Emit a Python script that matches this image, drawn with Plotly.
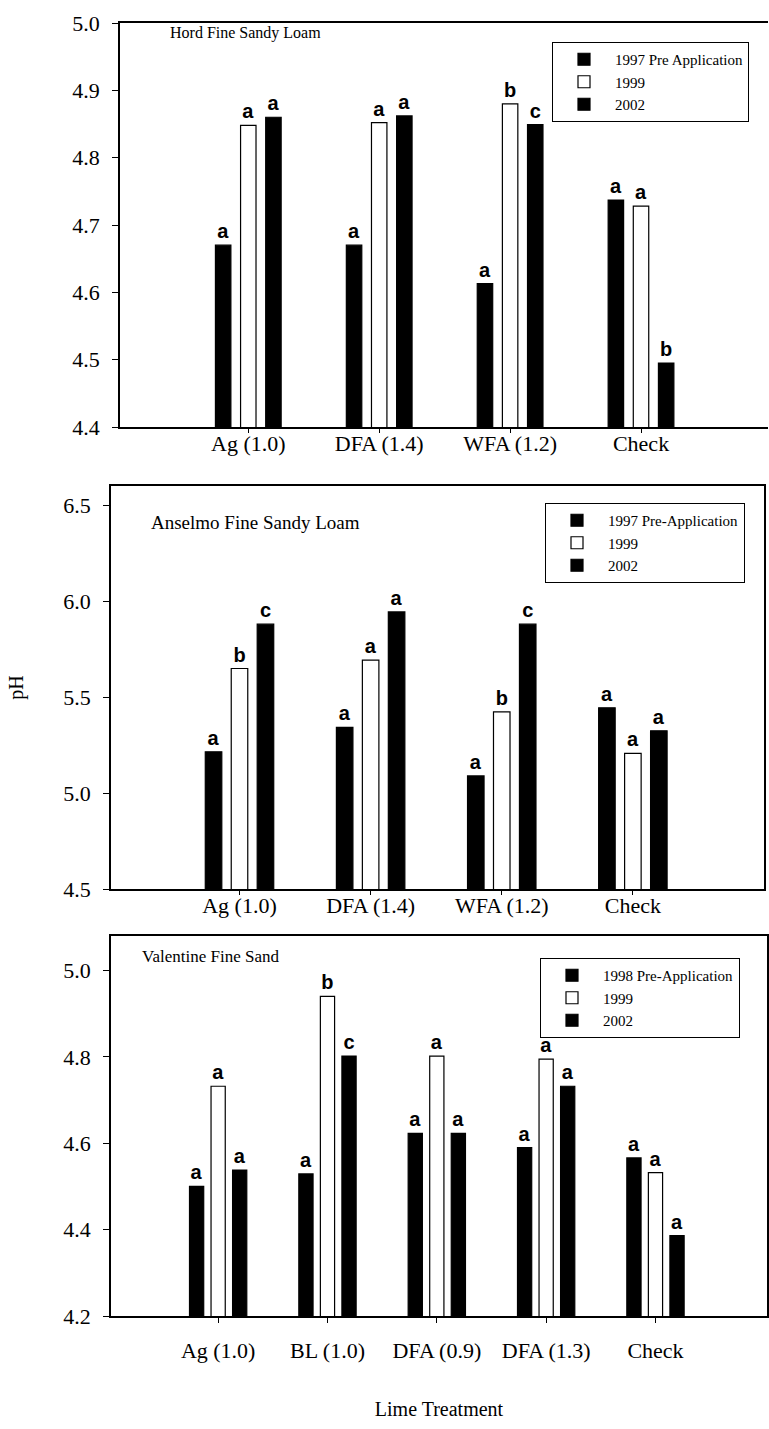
import plotly.graph_objects as go

W, H = 769, 1429

# ---------------- data ----------------
hord_cats = ["Ag (1.0)", "DFA (1.4)", "WFA (1.2)", "Check"]
hord_1997 = [4.670, 4.670, 4.613, 4.737]
hord_1999 = [4.848, 4.852, 4.880, 4.728]
hord_2002 = [4.860, 4.862, 4.849, 4.495]
hord_lab_1997 = ["a", "a", "a", "a"]
hord_lab_1999 = ["a", "a", "b", "a"]
hord_lab_2002 = ["a", "a", "c", "b"]

ans_cats = ["Ag (1.0)", "DFA (1.4)", "WFA (1.2)", "Check"]
ans_1997 = [5.215, 5.342, 5.089, 5.444]
ans_1999 = [5.649, 5.693, 5.423, 5.207]
ans_2002 = [5.880, 5.944, 5.880, 5.324]
ans_lab_1997 = ["a", "a", "a", "a"]
ans_lab_1999 = ["b", "a", "b", "a"]
ans_lab_2002 = ["c", "a", "c", "a"]

val_cats = ["Ag (1.0)", "BL (1.0)", "DFA (0.9)", "DFA (1.3)", "Check"]
val_1998 = [4.500, 4.529, 4.623, 4.590, 4.566]
val_1999 = [4.732, 4.940, 4.802, 4.795, 4.532]
val_2002 = [4.538, 4.802, 4.623, 4.732, 4.386]
val_lab_1998 = ["a", "a", "a", "a", "a"]
val_lab_1999 = ["a", "b", "a", "a", "a"]
val_lab_2002 = ["a", "c", "a", "a", "a"]

SERIF = "Liberation Serif"
SANS = "Liberation Sans"


def dom_x(l, r):
    return [l / W, r / W]


def dom_y(top, bottom):
    return [1 - bottom / H, 1 - top / H]


fig = go.Figure()

panels = [
    dict(cats=hord_cats, series=[("1997 Pre Application", hord_1997, hord_lab_1997, "black"),
                                 ("1999", hord_1999, hord_lab_1999, "white"),
                                 ("2002", hord_2002, hord_lab_2002, "black")],
         xa="x", ya="y", legend="legend", width=0.118, step=0.192),
    dict(cats=ans_cats, series=[("1997 Pre-Application", ans_1997, ans_lab_1997, "black"),
                                ("1999", ans_1999, ans_lab_1999, "white"),
                                ("2002", ans_2002, ans_lab_2002, "black")],
         xa="x2", ya="y2", legend="legend2", width=0.126, step=0.198),
    dict(cats=val_cats, series=[("1998 Pre-Application", val_1998, val_lab_1998, "black"),
                                ("1999", val_1999, val_lab_1999, "white"),
                                ("2002", val_2002, val_lab_2002, "black")],
         xa="x3", ya="y3", legend="legend3", width=0.13, step=0.197),
]

for p in panels:
    for i, (name, vals, labs, col) in enumerate(p["series"]):
        center = (i - 1) * p["step"]
        fig.add_trace(go.Bar(
            x=p["cats"], y=vals, name=name,
            marker=dict(color=col, line=dict(color="black", width=1.2)),
            width=p["width"], offset=center - p["width"] / 2,
            text=labs, textposition="outside", cliponaxis=False,
            textfont=dict(family=SANS, size=20, color="black", weight="bold"),
            xaxis=p["xa"], yaxis=p["ya"], legend=p["legend"],
        ))

axis_common = dict(showline=True, linecolor="black", linewidth=1.5, ticks="outside",
                   tickcolor="black", showgrid=False, zeroline=False,
                   tickfont=dict(family=SERIF, size=22, color="black"))

fig.update_layout(
    width=W, height=H, margin=dict(l=0, r=0, t=0, b=0, autoexpand=False),
    paper_bgcolor="white", plot_bgcolor="white",
    barmode="overlay", showlegend=True,
    xaxis=dict(axis_common, domain=dom_x(120, 768), anchor="y", type="category",
               range=[-0.98, 3.97], mirror=True, ticklen=4, ticklabelstandoff=-8),
    yaxis=dict(axis_common, domain=dom_y(23, 427), anchor="x", range=[4.4, 5.0],
               tickvals=[4.4, 4.5, 4.6, 4.7, 4.8, 4.9, 5.0], tickformat=".1f", ticklen=6,
               ticklabelstandoff=8),
    xaxis2=dict(axis_common, domain=dom_x(111, 764), anchor="y2", type="category",
                range=[-0.98, 4.0], mirror=True, ticklen=4, ticklabelstandoff=-8),
    yaxis2=dict(axis_common, domain=dom_y(486, 889), anchor="x2", range=[4.5, 6.6],
                tickvals=[4.5, 5.0, 5.5, 6.0, 6.5], tickformat=".1f", ticklen=6, mirror=True,
                ticklabelstandoff=8,
                title=dict(text="pH", font=dict(family=SERIF, size=20, color="black"), standoff=34)),
    xaxis3=dict(axis_common, domain=dom_x(111, 767), anchor="y3", type="category",
                range=[-0.98, 5.02], mirror=True, ticklen=5, ticklabelstandoff=9,
                title=dict(text="Lime Treatment", font=dict(family=SERIF, size=20, color="black"),
                           standoff=40)),
    yaxis3=dict(axis_common, domain=dom_y(936, 1316), anchor="x3", range=[4.2, 5.08],
                tickvals=[4.2, 4.4, 4.6, 4.8, 5.0], tickformat=".1f", ticklen=6, mirror=True,
                ticklabelstandoff=8),
)

leg_common = dict(bgcolor="white", bordercolor="black", borderwidth=1,
                  font=dict(family=SERIF, size=15, color="black"),
                  xanchor="left", yanchor="top", itemwidth=52, tracegroupgap=2)
fig.update_layout(
    legend=dict(leg_common, x=552 / W, y=1 - 42 / H),
    legend2=dict(leg_common, x=545 / W, y=1 - 503 / H),
    legend3=dict(leg_common, x=540 / W, y=1 - 958 / H),
)

titles = [("Hord Fine Sandy Loam", 168, 33, 16),
          ("Anselmo Fine Sandy Loam", 149, 523, 19),
          ("Valentine Fine Sand", 140, 956, 17)]
for t, x, y, s in titles:
    fig.add_annotation(text=t, x=x / W, y=1 - y / H, xref="paper", yref="paper",
                       xanchor="left", yanchor="middle", showarrow=False,
                       font=dict(family=SERIF, size=s, color="black"))

fig.write_html("out.html", config={"displayModeBar": False},
               post_script="document.body.style.margin='0';")
